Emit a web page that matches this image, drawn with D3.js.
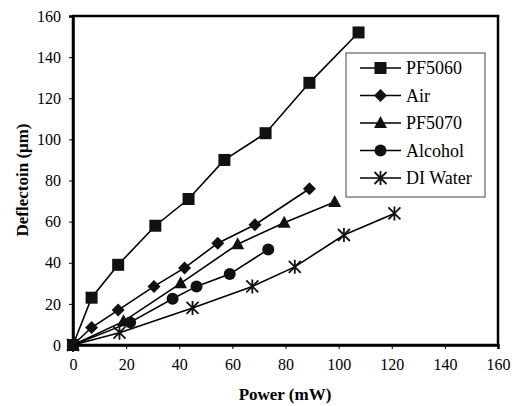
<!DOCTYPE html>
<html>
<head>
<meta charset="utf-8">
<script src="https://cdn.jsdelivr.net/npm/d3@7"></script>
<style>
body { margin: 0; background: #fff; }
svg { display: block; }
text { font-family: "Liberation Serif", "Times New Roman", serif; fill: #000; }
</style>
</head>
<body>
<svg id="chart" width="512" height="406"></svg>
<script>
const seriesNames = ["PF5060", "Air", "PF5070", "Alcohol", "DI Water"];
const pf5060 = [[0,0],[7,23],[17,39],[31,58],[43.5,71],[57,90],[72.5,103],[89,127.5],[107.5,152]];
const air = [[0,0],[7,8.5],[17,17],[30.5,28.5],[42,37.5],[54.5,49.5],[68.5,58.5],[89,76]];
const pf5070 = [[0,0],[19,11.5],[40.5,30],[62,49],[79.5,59.5],[98.5,69.5]];
const alcohol = [[0,0],[21.5,11],[37.5,22.5],[46.5,28.5],[59,34.5],[73.5,46.5]];
const diWater = [[0,0],[17.5,6],[45,18],[67.5,28.5],[83.5,38],[102,53.5],[121,64]];
const xTicks = [0,20,40,60,80,100,120,140,160];
const yTicks = [0,20,40,60,80,100,120,140,160];
const markers = ["square","diamond","triangle","circle","star"];

const allSeries = [pf5060, air, pf5070, alcohol, diWater];
const svg = d3.select("#chart");
const L = 73, R = 498, T = 16, B = 345;
const x = d3.scaleLinear().domain([0,160]).range([L,R]);
const y = d3.scaleLinear().domain([0,160]).range([B,T]);

// frame
svg.append("rect").attr("x",L).attr("y",T).attr("width",R-L).attr("height",B-T)
  .attr("fill","none").attr("stroke","#000").attr("stroke-width",2.5);

const xAxis = svg.append("g").attr("transform",`translate(0,${B})`)
  .call(d3.axisBottom(x).tickValues(xTicks).tickSize(4).tickPadding(10).tickFormat(d3.format("d")));
const yAxis = svg.append("g").attr("transform",`translate(${L},0)`)
  .call(d3.axisLeft(y).tickValues(yTicks).tickSize(4).tickPadding(8).tickFormat(d3.format("d")));
[xAxis,yAxis].forEach(g=>{
  g.select(".domain").attr("stroke","#000").attr("stroke-width",2.5);
  g.selectAll(".tick line").attr("stroke","#000").attr("stroke-width",1);
  g.selectAll(".tick text").style("font-family","Liberation Serif").style("font-size","16px").attr("fill","#000");
});

const line = d3.line().x(d=>x(d[0])).y(d=>y(d[1]));

function drawMarker(g, type, cx, cy) {
  if (type==="square") {
    g.append("rect").attr("x",cx-6).attr("y",cy-6).attr("width",12).attr("height",12).attr("fill","#111");
  } else if (type==="diamond") {
    g.append("path").attr("d",`M${cx},${cy-6.5}L${cx+6.5},${cy}L${cx},${cy+6.5}L${cx-6.5},${cy}Z`).attr("fill","#111");
  } else if (type==="triangle") {
    g.append("path").attr("d",`M${cx},${cy-7}L${cx+6.5},${cy+5}L${cx-6.5},${cy+5}Z`).attr("fill","#111");
  } else if (type==="circle") {
    g.append("circle").attr("cx",cx).attr("cy",cy).attr("r",6).attr("fill","#111");
  } else if (type==="star") {
    const s = 6;
    g.append("path").attr("d",
      `M${cx-s},${cy-s}L${cx+s},${cy+s}M${cx-s},${cy+s}L${cx+s},${cy-s}M${cx},${cy-s-1}L${cx},${cy+s+1}`)
      .attr("stroke","#111").attr("stroke-width",1.8).attr("fill","none");
  }
}

allSeries.forEach((data,i)=>{
  const g = svg.append("g");
  g.append("path").datum(data).attr("d",line).attr("fill","none").attr("stroke","#000").attr("stroke-width",1.6);
  data.forEach(d=>drawMarker(g, markers[i], x(d[0]), y(d[1])));
});

// legend
const lg = svg.append("g");
lg.append("rect").attr("x",346).attr("y",53).attr("width",139).attr("height",144)
  .attr("fill","#fff").attr("stroke","#444").attr("stroke-width",1);
seriesNames.forEach((name,i)=>{
  const yy = 68 + i*27.5;
  lg.append("line").attr("x1",360).attr("x2",401).attr("y1",yy).attr("y2",yy).attr("stroke","#000").attr("stroke-width",1.6);
  drawMarker(lg, markers[i], 380.5, yy);
  lg.append("text").attr("x",406).attr("y",yy).attr("dy","0.35em").style("font-size","18px").text(name);
});

// titles
svg.append("text").attr("x",285).attr("y",400).attr("text-anchor","middle")
  .style("font-size","17px").style("font-weight","bold").text("Power (mW)");
svg.append("text").attr("transform","translate(22,180) rotate(-90)").attr("text-anchor","middle")
  .attr("dy","0.35em").style("font-size","17px").style("font-weight","bold").text("Deflectoin (μm)");
</script>
</body>
</html>
